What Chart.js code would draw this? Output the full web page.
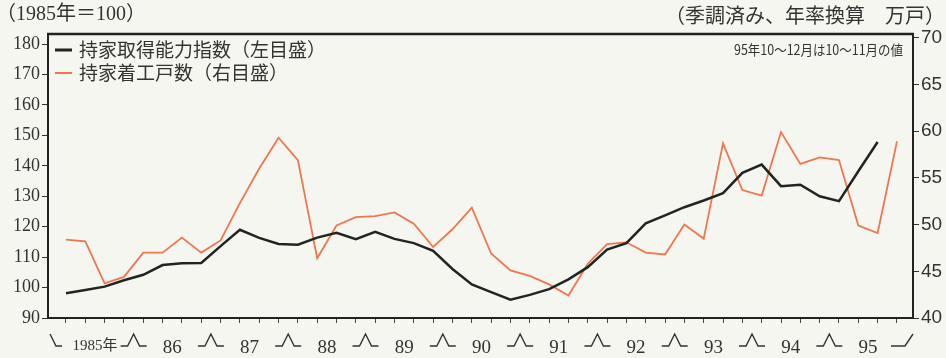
<!DOCTYPE html>
<html>
<head>
<meta charset="utf-8">
<script src="https://cdn.jsdelivr.net/npm/chart.js@4"></script>
<style>
  body { margin: 0; background: #f6f6f0; }
  #wrap { width: 946px; height: 358px; position: relative; }
</style>
</head>
<body>
<div id="wrap"><canvas id="housingChart"></canvas></div>
<script>
// quarterly, 1985 Q1 .. 1995 Q4
const years = ["1985年", "86", "87", "88", "89", "90", "91", "92", "93", "94", "95"];
const affordIndex = [98.1, 99.2, 100.3, 102.4, 104.2, 107.4, 108.0, 108.1, 113.6, 119.0, 116.3, 114.3,
  114.1, 116.4, 118.0, 115.9, 118.3, 116.0, 114.6, 112.1, 106.1, 101.0, 98.5, 96.0,
  97.6, 99.5, 102.7, 106.7, 112.5, 114.6, 121.1, 123.7, 126.4, 128.6, 131.0, 137.7,
  140.4, 133.3, 133.8, 130.0, 128.4, 138.2, 147.8, null];
const housingStarts = [48.4, 48.2, 43.7, 44.4, 47.0, 47.0, 48.6, 47.0, 48.3, 52.3, 56.0, 59.3,
  56.9, 46.4, 49.9, 50.8, 50.9, 51.3, 50.1, 47.6, 49.5, 51.8, 46.9, 45.1,
  44.5, 43.6, 42.4, 45.8, 47.9, 48.1, 47.0, 46.8, 50.0, 48.5, 58.7, 53.7,
  53.1, 59.9, 56.5, 57.2, 56.9, 49.9, 49.1, 58.9];
const leftTicks = [90, 100, 110, 120, 130, 140, 150, 160, 170, 180];
const rightTicks = [40, 45, 50, 55, 60, 65, 70];
const leftUnit = "（1985年＝100）";
const rightUnit = "（季調済み、年率換算　万戸）";
const note = "95年10～12月は10～11月の値";

const decor = {
  id: "decor",
  beforeDraw(chart) {
    const ctx = chart.ctx;
    ctx.save();
    ctx.fillStyle = "#f6f6f0";
    ctx.fillRect(0, 0, chart.width, chart.height);
    ctx.restore();
  },
  afterDraw(chart) {
    const { ctx, chartArea: a, scales: { x } } = chart;
    ctx.save();
    // top of the frame
    ctx.strokeStyle = "#222";
    ctx.lineWidth = 2.5;
    ctx.beginPath();
    ctx.moveTo(a.left - 1, a.top);
    ctx.lineTo(a.right + 1, a.top);
    ctx.stroke();

    // year brackets under the axis
    const base = 346, peak = 334;
    ctx.lineWidth = 1.4;
    ctx.strokeStyle = "#333";
    ctx.beginPath();
    ctx.moveTo(a.left + 2, peak);
    ctx.lineTo(a.left + 8, base);
    ctx.lineTo(a.left + 14, base);
    for (let k = 1; k < years.length; k++) {
      const px = x.getPixelForValue(4 * k - 0.5);
      ctx.moveTo(px - 13, base);
      ctx.lineTo(px - 6, base);
      ctx.lineTo(px, peak);
      ctx.lineTo(px + 6, base);
      ctx.lineTo(px + 13, base);
    }
    ctx.moveTo(a.right - 22, base);
    ctx.lineTo(a.right - 8, base);
    ctx.lineTo(a.right, peak);
    ctx.stroke();

    // legend inside the plot
    ctx.textBaseline = "middle";
    ctx.textAlign = "left";
    ctx.font = '19px "Noto Sans CJK JP"';
    chart.data.datasets.forEach((ds, i) => {
      const ly = a.top + 16 + i * 23;
      ctx.strokeStyle = ds.borderColor;
      ctx.lineWidth = i === 0 ? 3 : 2;
      ctx.beginPath();
      ctx.moveTo(a.left + 7, ly);
      ctx.lineTo(a.left + 24, ly);
      ctx.stroke();
      ctx.fillStyle = "#333";
      ctx.fillText(ds.label, a.left + 31, ly);
    });

    // unit texts and note
    ctx.fillStyle = "#333";
    ctx.font = '20px "Liberation Serif", "Noto Sans CJK JP"';
    ctx.fillText(leftUnit, -4, 15);
    ctx.textAlign = "right";
    ctx.font = '20px "Noto Sans CJK JP"';
    ctx.fillText(rightUnit, 945, 15);
    ctx.font = '14px "Noto Sans CJK JP"';
    ctx.fillText(note, a.right - 10, 50, 169);
    ctx.restore();
  },
};

const ctx = document.getElementById("housingChart").getContext("2d");

const chart = new Chart(ctx, {
  type: "line",
  data: {
    datasets: [
      {
        label: "持家取得能力指数（左目盛）",
        data: affordIndex.map((v, i) => ({ x: i, y: v })),
        borderColor: "#1f2521",
        borderWidth: 2.5,
        pointRadius: 0,
        yAxisID: "y",
      },
      {
        label: "持家着工戸数（右目盛）",
        data: housingStarts.map((v, i) => ({ x: i, y: v })),
        borderColor: "#ef7650",
        borderWidth: 1.8,
        pointRadius: 0,
        yAxisID: "y1",
      },
    ],
  },
  options: {
    responsive: true,
    maintainAspectRatio: false,
    animation: false,
    layout: { padding: { top: 34, left: 0, right: 0, bottom: 0 } },
    plugins: {
      tooltip: { enabled: false },
      legend: { display: false },
    },
    scales: {
      x: {
        type: "linear",
        min: -0.93,
        max: 43.83,
        afterBuildTicks: (scale) => {
          scale.ticks = housingStarts.map((v, i) => ({ value: i }));
        },
        afterFit: (scale) => {
          scale.height = 40;
        },
        grid: { drawOnChartArea: false, drawTicks: true, tickLength: 5, color: "#444" },
        border: { display: true, color: "#222", width: 2 },
        ticks: {
          autoSkip: false,
          maxRotation: 0,
          minRotation: 0,
          padding: 14,
          labelOffset: 9.7,
          color: "#333",
          font: (c) => ({
            family: '"Liberation Serif", "Noto Sans CJK JP"',
            size: c.index === 1 ? 15 : 19,
          }),
          callback: (value) => (value % 4 === 1 ? years[(value - 1) / 4] : ""),
        },
      },
      y: {
        position: "left",
        min: 90,
        max: 183.3,
        afterBuildTicks: (scale) => {
          scale.ticks = leftTicks.map((v) => ({ value: v }));
        },
        afterFit: (scale) => {
          scale.width = 48;
        },
        grid: { drawOnChartArea: false, tickLength: 6, color: "#333" },
        border: { display: true, color: "#222", width: 2 },
        ticks: {
          padding: 2,
          color: "#333",
          font: { family: '"Liberation Serif"', size: 18 },
        },
      },
      y1: {
        position: "right",
        min: 40,
        max: 70.4,
        afterBuildTicks: (scale) => {
          scale.ticks = rightTicks.map((v) => ({ value: v }));
        },
        afterFit: (scale) => {
          scale.width = 33;
        },
        grid: { drawOnChartArea: false, tickLength: 6, color: "#333" },
        border: { display: true, color: "#222", width: 2 },
        ticks: {
          padding: 2,
          color: "#333",
          font: { family: '"Liberation Sans"', size: 19 },
        },
      },
    },
  },
  plugins: [decor],
});
</script>
</body>
</html>
